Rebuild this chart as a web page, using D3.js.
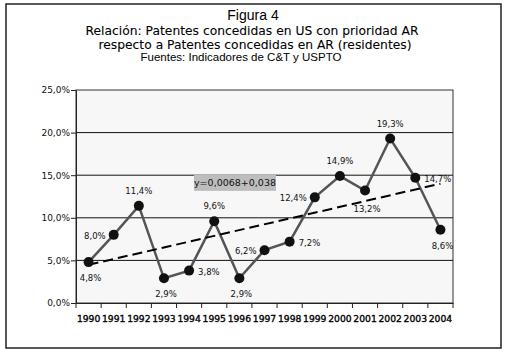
<!DOCTYPE html>
<html>
<head>
<meta charset="utf-8">
<script src="https://cdn.jsdelivr.net/npm/d3@7"></script>
<style>
  body { margin: 0; background: #fff; }
  svg { display: block; }
</style>
</head>
<body>
<div id="chart"></div>
<script>
// data
let years = ["1990","1991","1992","1993","1994","1995","1996","1997","1998","1999","2000","2001","2002","2003","2004"];
let ratio = [4.8, 8.0, 11.4, 2.9, 3.8, 9.6, 2.9, 6.2, 7.2, 12.4, 14.9, 13.2, 19.3, 14.7, 8.6];
// where each value label sits relative to its point
let labelPos = ["below","left","above","below","right","above","below","left","right","left","above","belowright","above","right","below"];
let yTicks = [0, 5, 10, 15, 20, 25];
let trendSlope = 0.0068;   // from the equation box
let trendIntercept = 0.038;
let trendText = "y=0,0068+0,038";

let W = 507, H = 354;
let plot = {left: 76, right: 453, top: 90, bottom: 303};
let font = "DejaVu Sans, Verdana, sans-serif";

let svg = d3.select("#chart").append("svg")
    .attr("width", W)
    .attr("height", H);

// outer frame
svg.append("rect")
    .attr("x", 6).attr("y", 4)
    .attr("width", 495).attr("height", 344)
    .attr("fill", "#fff")
    .attr("stroke", "#222")
    .attr("stroke-width", 1.5);

// titles
svg.append("text")
    .attr("x", 253).attr("y", 20)
    .attr("text-anchor", "middle")
    .style("font-family", "Liberation Sans, Arial, sans-serif")
    .style("font-size", "14px")
    .text("Figura 4");

let t2 = svg.append("text")
    .attr("text-anchor", "middle")
    .style("font-family", font)
    .style("font-size", "12.3px")
    .attr("fill", "#000")
    .attr("stroke", "#000")
    .attr("stroke-width", 0.08);
t2.append("tspan").attr("x", 252).attr("y", 35).text("Relación: Patentes concedidas en US con prioridad AR");
t2.append("tspan").attr("x", 255).attr("y", 49).text("respecto a Patentes concedidas en AR (residentes)");

svg.append("text")
    .attr("x", 241).attr("y", 61)
    .attr("text-anchor", "middle")
    .style("font-family", "Liberation Sans Narrow, Arial Narrow, sans-serif")
    .style("font-size", "11.5px")
    .text("Fuentes: Indicadores de C&T y USPTO");

// scales
let x = d3.scaleBand()
    .domain(years)
    .range([plot.left, plot.right]);

let y = d3.scaleLinear()
    .domain([0, 25])
    .range([plot.bottom, plot.top]);

let cx = d => x(d) + x.bandwidth() / 2;

// plot background
svg.append("rect")
    .attr("x", plot.left).attr("y", plot.top)
    .attr("width", plot.right - plot.left)
    .attr("height", plot.bottom - plot.top)
    .attr("fill", "#f7f7f7")
    .attr("stroke", "#333")
    .attr("stroke-width", 1);

// gridlines
svg.append("g")
    .selectAll("line")
    .data(yTicks.filter(d => d > 0 && d < 25))
    .enter().append("line")
    .attr("x1", plot.left).attr("x2", plot.right)
    .attr("y1", d => y(d)).attr("y2", d => y(d))
    .attr("stroke", "#111")
    .attr("stroke-width", 1);

// y axis
let y_ax = d3.axisLeft(y)
    .tickValues(yTicks)
    .tickSize(5)
    .tickSizeOuter(0)
    .tickPadding(1)
    .tickFormat(d => d3.format(".1f")(d).replace(".", ",") + "%");

svg.append("g")
    .attr("transform", `translate(${plot.left},0)`)
    .call(y_ax)
    .call(g => g.select(".domain").attr("stroke", "#222"))
    .call(g => g.selectAll(".tick line").attr("stroke", "#222"))
    .call(g => g.selectAll("text")
        .style("font-family", font)
        .style("font-size", "9px")
        .attr("fill", "#111"));

// x axis: ticks between categories
let x_ax = d3.axisBottom(x)
    .tickSize(0)
    .tickSizeOuter(0)
    .tickPadding(12);

let xg = svg.append("g")
    .attr("transform", `translate(0,${plot.bottom})`)
    .call(x_ax);
xg.select(".domain").attr("stroke", "#222");
xg.selectAll("text")
    .style("font-family", font)
    .style("font-size", "9.2px")
    .attr("fill", "#000")
    .attr("stroke", "#000")
    .attr("stroke-width", 0.35);
xg.selectAll(".sep")
    .data(years.concat(["end"]))
    .enter().append("line")
    .attr("class", "sep")
    .attr("x1", (d, i) => plot.left + i * x.bandwidth())
    .attr("x2", (d, i) => plot.left + i * x.bandwidth())
    .attr("y1", 0).attr("y2", 5)
    .attr("stroke", "#222");

// series line
let line = d3.line()
    .x((d, i) => cx(years[i]))
    .y(d => y(d));

svg.append("path")
    .datum(ratio)
    .attr("d", line)
    .attr("fill", "none")
    .attr("stroke", "#555")
    .attr("stroke-width", 2.5);

// trend line
let trend = i => (trendSlope * (i + 1) + trendIntercept) * 100;
svg.append("line")
    .attr("x1", cx(years[0]))
    .attr("y1", y(trend(0)))
    .attr("x2", cx(years[years.length - 1]))
    .attr("y2", y(trend(years.length - 1)))
    .attr("stroke", "#000")
    .attr("stroke-width", 2)
    .attr("stroke-dasharray", "10,5");

// markers
svg.append("g")
    .selectAll("circle")
    .data(ratio)
    .enter().append("circle")
    .attr("cx", (d, i) => cx(years[i]))
    .attr("cy", d => y(d))
    .attr("r", 5)
    .attr("fill", "#111");

// value labels
let offsets = {
    below: [2, 19, "middle"],
    above: [0, -12, "middle"],
    left: [-8, 4, "end"],
    right: [9, 4, "start"],
    belowright: [2, 21, "middle"]
};
svg.append("g")
    .selectAll("text")
    .data(ratio)
    .enter().append("text")
    .attr("x", (d, i) => cx(years[i]) + offsets[labelPos[i]][0])
    .attr("y", (d, i) => y(d) + offsets[labelPos[i]][1])
    .attr("text-anchor", (d, i) => offsets[labelPos[i]][2])
    .style("font-family", font)
    .style("font-size", "8.5px")
    .attr("fill", "#111")
    .text(d => d3.format(".1f")(d).replace(".", ",") + "%");

// equation box
let eqX = 235, eqY = y(14.1);
svg.append("rect")
    .attr("x", eqX - 41).attr("y", eqY - 8)
    .attr("width", 82).attr("height", 16)
    .attr("fill", "#bdbdbd");
svg.append("text")
    .attr("x", eqX).attr("y", eqY + 3.5)
    .attr("text-anchor", "middle")
    .style("font-family", font)
    .style("font-size", "9.5px")
    .attr("fill", "#111")
    .text(trendText);
</script>
</body>
</html>
